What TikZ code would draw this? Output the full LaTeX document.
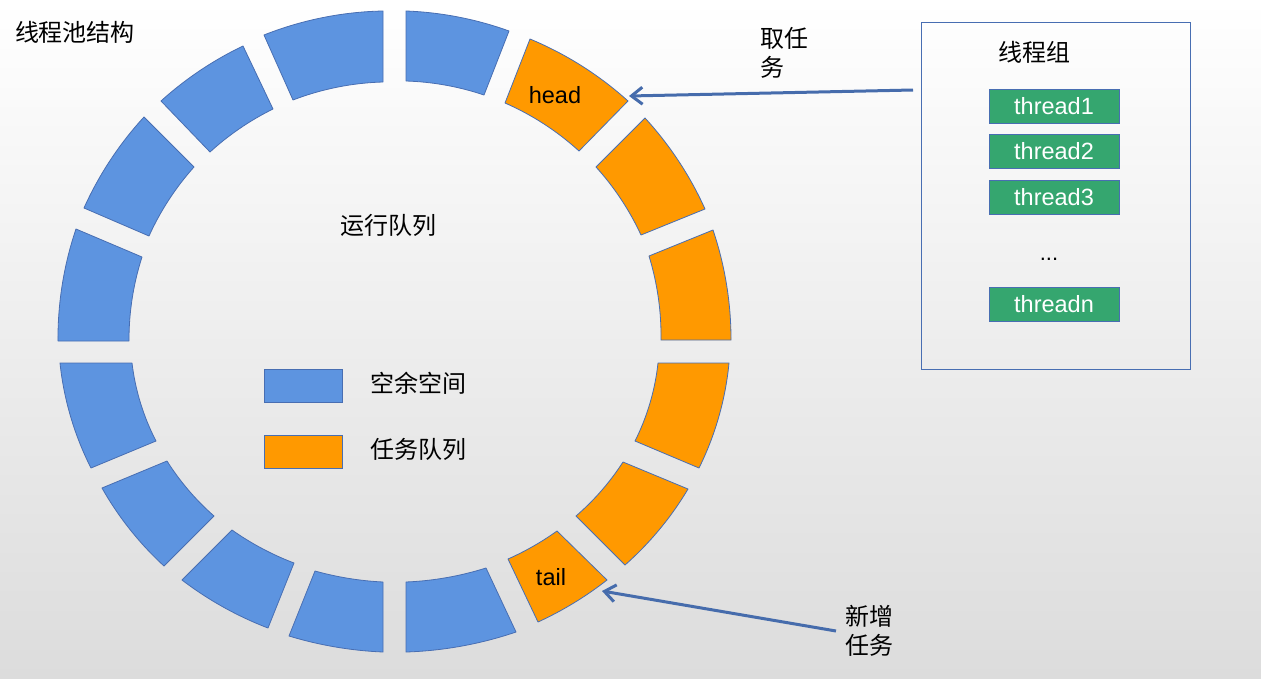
\documentclass[tikz,border=0pt]{standalone}
\usepackage{fontspec}
\setmainfont{Liberation Sans}
\newfontfamily\cjk{Noto Sans CJK SC}
\usetikzlibrary{arrows.meta}
\definecolor{segblue}{RGB}{93,148,224}
\definecolor{segorange}{RGB}{255,153,0}
\definecolor{edgeblue}{RGB}{72,110,178}
\definecolor{arrowblue}{RGB}{70,108,172}
\definecolor{thgreen}{RGB}{53,166,111}
\definecolor{bgbottom}{RGB}{220,220,220}
\definecolor{bgmid}{RGB}{246,246,246}
\newcommand\ringseg[7]{%
  \draw[#1] #2 to[bend right=#6] #3 -- #4 to[bend left=#7] #5 -- cycle;}
\begin{document}
\begin{tikzpicture}[x=1pt,y=-1pt,
  seg/.style={draw=edgeblue, line width=0.8pt, looseness=0.854, line join=round},
  free/.style={seg, fill=segblue},
  task/.style={seg, fill=segorange},
  cjktext/.style={font=\cjk\fontsize{24}{29}\selectfont, inner sep=0pt},
  lattext/.style={font=\fontsize{23.5}{28}\selectfont, inner sep=0pt},
  legbox/.style={draw=edgeblue, line width=0.8pt, minimum width=78pt, minimum height=33pt, inner sep=0pt},
  thbox/.style={draw=edgeblue, line width=0.8pt, fill=thgreen, text=white, minimum width=130pt, minimum height=34pt, inner sep=0pt, font=\fontsize{23.5}{28}\selectfont},
  arr/.style={draw=arrowblue, line width=3pt, -{Straight Barb[length=11pt,width=17pt,line width=3pt]}}
]
\useasboundingbox (0,0) rectangle (1261,678);
\shade[top color=white, middle color=bgmid, bottom color=bgbottom] (0,0) rectangle (1261,678);

% ring segments (counterclockwise from the right)
\ringseg{task}{(731,340)}{(713,230)}{(649,256)}{(661,340)}{9.4}{9.0}
\ringseg{task}{(705,209)}{(645,118)}{(596,167)}{(641,235)}{9.2}{8.7}
\ringseg{task}{(628,101)}{(530,39)}{(505,103)}{(579,151)}{9.8}{9.4}
\ringseg{free}{(509,31)}{(406,11)}{(406,81)}{(484,95)}{8.9}{8.4}
\ringseg{free}{(383,11)}{(264,35)}{(293,100)}{(383,82)}{10.3}{9.8}
\ringseg{free}{(243,46)}{(161,101)}{(210,152)}{(273,109)}{8.3}{8.1}
\ringseg{free}{(144,117)}{(84,208)}{(149,236)}{(194,167)}{9.2}{8.8}
\ringseg{free}{(76,229)}{(58,341)}{(129,341)}{(142,257)}{9.6}{9.1}
\ringseg{free}{(60,363)}{(91,468)}{(156,441)}{(132,363)}{10.5}{10.3}
\ringseg{free}{(102,488)}{(164,566)}{(214,516)}{(167,461)}{9.0}{8.3}
\ringseg{free}{(182,580)}{(268,628)}{(294,563)}{(232,530)}{8.2}{7.2}
\ringseg{free}{(289,636)}{(383,652)}{(383,582)}{(315,571)}{7.3}{6.4}
\ringseg{free}{(406,652)}{(516,632)}{(486,568)}{(406,582)}{8.5}{7.6}
\ringseg{task}{(538,622)}{(607,580)}{(557,531)}{(508,559)}{6.7}{5.8}
\ringseg{task}{(625,565)}{(688,489)}{(623,462)}{(576,516)}{8.9}{8.2}
\ringseg{task}{(699,468)}{(729,363)}{(658,363)}{(635,441)}{10.5}{10.3}

% texts
\node[cjktext] (title) at (75,32) {线程池结构};
\node[cjktext] (runq) at (388,225) {运行队列};
\node[lattext] (head) at (555,95) {head};
\node[lattext] (tail) at (551,577) {tail};

% legend
\node[legbox, fill=segblue] (legfree) at (303,385.5) {};
\node[legbox, fill=segorange] (legtask) at (303,451.5) {};
\node[cjktext] (legfreetxt) at (418,383) {空余空间};
\node[cjktext] (legtasktxt) at (418,449) {任务队列};

% thread group
\node[draw=edgeblue, line width=0.8pt, minimum width=269pt, minimum height=347pt, inner sep=0pt] (group) at (1055.5,195.5) {};
\node[cjktext] (grouptitle) at (1034.5,52) {线程组};
\node[thbox] (t1) at (1054,106) {thread1};
\node[thbox] (t2) at (1054,151.5) {thread2};
\node[thbox] (t3) at (1054,197.5) {thread3};
\node[lattext, font=\fontsize{22}{26}\selectfont] (dots) at (1049,259) {...};
\node[thbox] (tn) at (1054,304) {threadn};

% arrow labels
\node[cjktext, align=left, anchor=west] (take) at (760,52.5) {取任\\务};
\node[cjktext, align=left, anchor=west] (add) at (845,631) {新增\\任务};

% arrows
\coordinate (takefrom) at (913,90);
\coordinate (headtip) at (629,96);
\coordinate (addfrom) at (836,631);
\coordinate (tailtip) at (602,591);
\draw[arr] (takefrom) -- (headtip);
\draw[arr] (addfrom) -- (tailtip);
\end{tikzpicture}
\end{document}
